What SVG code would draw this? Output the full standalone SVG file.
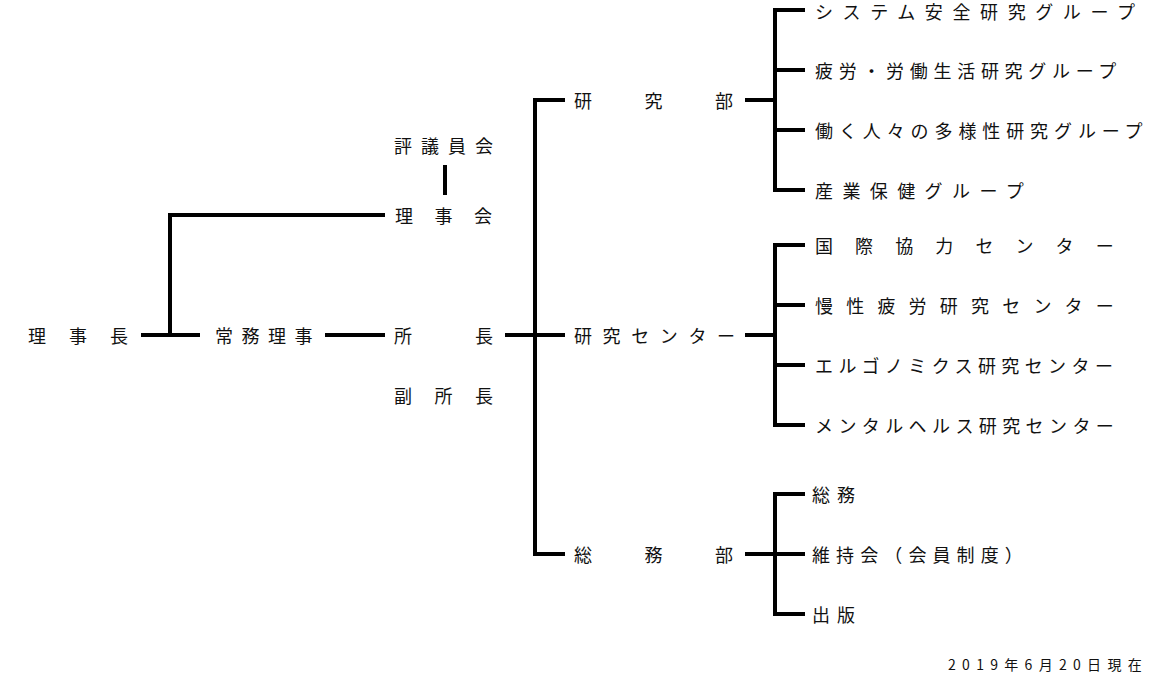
<svg xmlns="http://www.w3.org/2000/svg" width="1150" height="680" viewBox="0 0 1150 680">
<style>
text{font-family:"Noto Sans CJK JP","Noto Sans CJK SC",sans-serif;font-size:18px;fill:#111;dominant-baseline:central}
.ln{fill:none;stroke:#000;stroke-width:4;stroke-linejoin:miter;stroke-linecap:butt}
.date{font-size:14px}
</style>
<rect width="1150" height="680" fill="#fff"/>
<g id="connectors">
<path class="ln" d="M141 335H200"/>
<path class="ln" d="M170 335V215H385"/>
<path class="ln" d="M325 335H385"/>
<path class="ln" d="M445 165V195"/>
<path class="ln" d="M505 335H565"/>
<path class="ln" d="M565 100H535V554H565"/>
<path class="ln" d="M745 100H775"/>
<path class="ln" d="M805 10H775V190H805"/>
<path class="ln" d="M775 70H805M775 130H805"/>
<path class="ln" d="M745 335H775"/>
<path class="ln" d="M805 245H775V425H805"/>
<path class="ln" d="M775 305H805M775 365H805"/>
<path class="ln" d="M745 554H775"/>
<path class="ln" d="M805 494H775V614H805"/>
<path class="ln" d="M775 554H805"/>
</g>
<g id="n-rijicho"><text x="28" y="335" style="letter-spacing:23px">理事長</text></g>
<g id="n-jomu"><text x="215" y="335" style="letter-spacing:8.5px">常務理事</text></g>
<g id="n-hyogiinkai"><text x="394" y="145" style="letter-spacing:9px">評議員会</text></g>
<g id="n-rijikai"><text x="395" y="215" style="letter-spacing:21.5px">理事会</text></g>
<g id="n-shocho"><text x="394" y="335" style="letter-spacing:63px">所長</text></g>
<g id="n-fukushocho"><text x="394" y="395" style="letter-spacing:22.5px">副所長</text></g>
<g id="n-kenkyubu"><text x="574" y="100" style="letter-spacing:52.5px">研究部</text></g>
<g id="n-center"><text x="574" y="335" style="letter-spacing:10.6px">研究センター</text></g>
<g id="n-somubu"><text x="574" y="554" style="letter-spacing:52.5px">総務部</text></g>
<g id="n-system"><text x="815" y="11" style="letter-spacing:9.6px">システム安全研究グループ</text></g>
<g id="n-hiro"><text x="815" y="70" style="letter-spacing:5.7px">疲労・労働生活研究グループ</text></g>
<g id="n-tayosei"><text x="815" y="130" style="letter-spacing:5.9px">働く人々の多様性研究グループ</text></g>
<g id="n-sangyo"><text x="815" y="190" style="letter-spacing:9.4px">産業保健グループ</text></g>
<g id="n-kokusai"><text x="815" y="245" style="letter-spacing:22.1px">国際協力センター</text></g>
<g id="n-mansei"><text x="815" y="305" style="letter-spacing:13.2px">慢性疲労研究センター</text></g>
<g id="n-ergo"><text x="815" y="365" style="letter-spacing:5.4px">エルゴノミクス研究センター</text></g>
<g id="n-mental"><text x="815" y="425" style="letter-spacing:5.4px">メンタルヘルス研究センター</text></g>
<g id="n-somu"><text x="812" y="494" style="letter-spacing:7px">総務</text></g>
<g id="n-ijikai"><text x="812" y="554" style="letter-spacing:6.1px">維持会（会員制度）</text></g>
<g id="n-shuppan"><text x="812" y="614" style="letter-spacing:7px">出版</text></g>
<g id="date"><text class="date" x="948" y="664" style="letter-spacing:6.3px">2019年6月20日現在</text></g>
</svg>
